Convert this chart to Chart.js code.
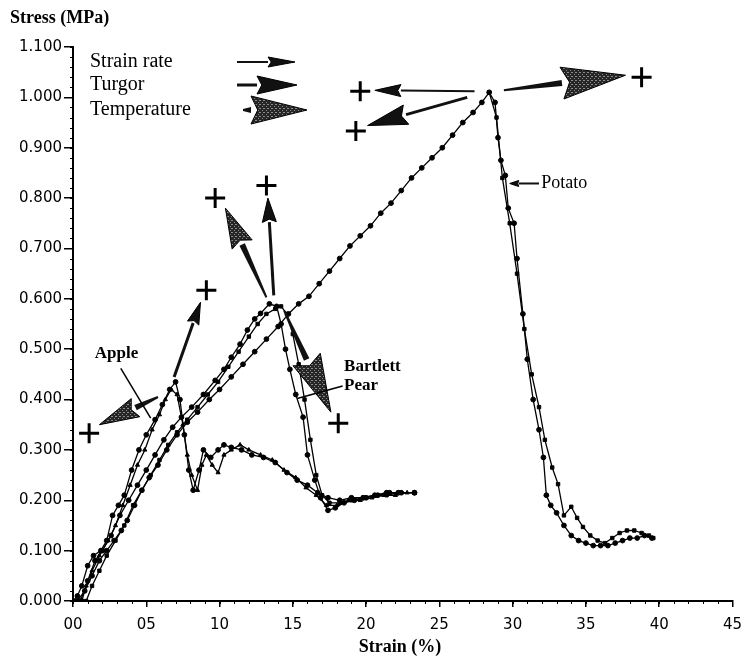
<!DOCTYPE html>
<html>
<head>
<meta charset="utf-8">
<script src="https://cdn.jsdelivr.net/npm/chart.js@4.4.1/dist/chart.umd.min.js"></script>
<style>
  html, body { margin:0; padding:0; background:#fff; }
  canvas { display:block; }
</style>
</head>
<body>
<canvas id="chart" width="751" height="665"></canvas>
<script>
// values: [strain %, stress MPa]
const appleA = [[0.0,0.0],[0.3,0.01],[0.6,0.03],[1.0,0.07],[1.4,0.09],[1.9,0.10],[2.3,0.12],[2.7,0.17],[3.1,0.19],[3.5,0.21],[4.0,0.26],[4.5,0.30],[5.0,0.33],[5.6,0.36],[6.1,0.39],[6.6,0.42],[7.0,0.435],[7.3,0.40],[7.6,0.33],[7.9,0.26],[8.2,0.22],[8.6,0.26],[8.9,0.30],[9.4,0.285],[9.9,0.30],[10.3,0.31],[10.8,0.305],[11.5,0.30],[12.2,0.29],[13.0,0.285],[13.8,0.275],[14.6,0.255],[15.3,0.24],[16.0,0.23],[16.7,0.215],[17.4,0.205],[18.2,0.20],[19.0,0.205],[19.8,0.205],[20.6,0.21],[21.4,0.215],[22.2,0.215],[23.3,0.215]];
const appleB = [[0.5,0.0],[0.9,0.03],[1.3,0.06],[1.8,0.09],[2.4,0.12],[2.9,0.15],[3.4,0.19],[3.9,0.23],[4.4,0.27],[4.9,0.30],[5.4,0.34],[5.9,0.37],[6.3,0.40],[6.7,0.42],[7.1,0.41],[7.5,0.35],[7.8,0.29],[8.1,0.25],[8.5,0.22],[8.8,0.27],[9.1,0.29],[9.5,0.27],[9.9,0.255],[10.3,0.29],[10.8,0.30],[11.4,0.31],[12.0,0.30],[12.8,0.29],[13.6,0.28],[14.4,0.26],[15.2,0.245],[15.9,0.225],[16.6,0.21],[17.3,0.19],[18.0,0.19],[18.8,0.20],[19.6,0.20],[20.4,0.205],[21.2,0.21],[22.0,0.21],[22.8,0.215],[23.3,0.215]];
const pearA = [[0.6,0.0],[1.0,0.04],[1.5,0.08],[2.0,0.10],[2.6,0.13],[3.2,0.17],[3.8,0.20],[4.4,0.23],[5.0,0.26],[5.6,0.29],[6.2,0.32],[6.8,0.345],[7.4,0.365],[8.1,0.385],[8.9,0.41],[9.7,0.438],[10.3,0.46],[10.8,0.484],[11.4,0.51],[11.9,0.538],[12.4,0.56],[12.8,0.571],[13.4,0.59],[13.9,0.585],[14.2,0.55],[14.5,0.50],[14.8,0.46],[15.2,0.41],[15.7,0.365],[16.0,0.29],[16.5,0.24],[16.9,0.205],[17.4,0.18],[17.9,0.185],[18.5,0.195],[19.2,0.20],[20.0,0.205],[20.8,0.21],[21.6,0.215],[22.4,0.215],[23.3,0.215]];
const pearB = [[0.9,0.0],[1.3,0.03],[1.8,0.06],[2.3,0.09],[2.9,0.12],[3.5,0.15],[4.1,0.19],[4.7,0.22],[5.3,0.25],[5.9,0.28],[6.5,0.31],[7.1,0.335],[7.8,0.36],[8.5,0.385],[9.2,0.41],[9.9,0.435],[10.6,0.465],[11.3,0.495],[12.0,0.525],[12.6,0.55],[13.2,0.57],[13.8,0.58],[14.2,0.585],[14.6,0.57],[15.0,0.53],[15.4,0.47],[15.8,0.40],[16.2,0.32],[16.6,0.25],[17.0,0.21],[17.5,0.195],[18.2,0.195],[19.0,0.20],[19.8,0.205],[20.6,0.21],[21.4,0.21],[22.2,0.215],[23.3,0.215]];
const potatoA = [[0.3,0.0],[0.8,0.02],[1.3,0.05],[1.8,0.08],[2.3,0.10],[2.8,0.12],[3.3,0.14],[3.7,0.16],[4.2,0.19],[4.7,0.22],[5.2,0.245],[5.8,0.27],[6.4,0.30],[7.1,0.33],[7.8,0.355],[8.5,0.375],[9.3,0.40],[10.0,0.42],[10.8,0.445],[11.6,0.47],[12.4,0.495],[13.2,0.52],[14.0,0.545],[14.7,0.57],[15.4,0.59],[16.1,0.605],[16.8,0.63],[17.5,0.655],[18.2,0.68],[18.9,0.705],[19.6,0.725],[20.3,0.745],[21.0,0.77],[21.7,0.79],[22.4,0.815],[23.1,0.84],[23.8,0.86],[24.5,0.88],[25.2,0.90],[25.9,0.925],[26.6,0.95],[27.3,0.97],[27.9,0.99],[28.4,1.01],[28.8,0.99],[29.0,0.92],[29.2,0.875],[29.5,0.845],[29.7,0.78],[30.1,0.75],[30.3,0.68],[30.7,0.57],[31.0,0.48],[31.4,0.40],[31.8,0.34],[32.1,0.285],[32.3,0.21],[32.6,0.19],[33.0,0.175],[33.5,0.15],[34.0,0.13],[34.5,0.12],[35.0,0.115],[35.5,0.11],[36.0,0.11],[36.5,0.11],[37.0,0.115],[37.5,0.12],[38.0,0.125],[38.5,0.125],[39.0,0.13],[39.5,0.125]];
const potatoB = [[28.4,1.01],[28.9,0.96],[29.3,0.84],[29.8,0.75],[30.3,0.65],[30.8,0.54],[31.3,0.45],[31.8,0.385],[32.2,0.32],[32.7,0.265],[33.1,0.232],[33.5,0.17],[34.0,0.187],[34.4,0.165],[34.8,0.147],[35.3,0.13],[35.8,0.12],[36.3,0.115],[36.8,0.125],[37.3,0.135],[37.8,0.14],[38.3,0.14],[38.8,0.135],[39.3,0.13],[39.6,0.125]];
// "+" marks at the ends of the arrows
const plusMarks = [[1.1,0.333],[9.1,0.617],[9.7,0.80],[13.2,0.825],[18.1,0.353],[19.6,1.012],[19.3,0.933],[38.8,1.04]];
const xTickLabels = ["00","05","10","15","20","25","30","35","40","45"];

// annotation arrows, in data units (from -> to)
const arrows = [
  { from:[5.8,0.405], to:[1.8,0.35], kind:"temp", head:40, half:10 },
  { from:[6.9,0.445], to:[8.7,0.593], kind:"turgor", head:22, half:6 },
  { from:[13.2,0.603], to:[10.4,0.78], kind:"temp", head:40, half:11 },
  { from:[13.7,0.607], to:[13.3,0.80], kind:"turgor", head:24, half:7 },
  { from:[14.4,0.577], to:[17.6,0.375], kind:"temp", head:58, half:15 },
  { from:[27.4,1.012], to:[20.6,1.014], kind:"rate", head:26, half:6 },
  { from:[26.9,1.0], to:[20.1,0.944], kind:"turgor", head:40, half:10 },
  { from:[29.4,1.014], to:[37.7,1.044], kind:"temp", head:64, half:16 }
];
const pointers = [
  { from:[3.26,0.462], to:[5.3,0.363], tip:false },
  { from:[18.4,0.427], to:[15.3,0.402], tip:false },
  { from:[31.8,0.829], to:[29.8,0.829], tip:true }
];
const curveLabels = [
  { text:"Apple", at:[1.49,0.492], font:"bold 17px 'Liberation Serif'" },
  { text:"Bartlett", at:[18.5,0.465], font:"bold 17px 'Liberation Serif'" },
  { text:"Pear", at:[18.5,0.427], font:"bold 17px 'Liberation Serif'" },
  { text:"Potato", at:[31.95,0.829], font:"18px 'Liberation Serif'" }
];

const toXY = arr => arr.map(([x, y]) => ({ x, y }));
const curve = (data, style) => ({
  data: toXY(data), showLine: true, borderColor: "#000", borderWidth: 1.3,
  pointStyle: style, pointRadius: 2.4, pointBackgroundColor: "#000",
  pointBorderColor: "#000", pointBorderWidth: 1
});

// stippled grey like the scanned "temperature" arrows
let stipple = null;
function getStipple(ctx) {
  if (stipple) return stipple;
  const c = document.createElement("canvas");
  c.width = 4; c.height = 4;
  const g = c.getContext("2d");
  g.fillStyle = "#262626"; g.fillRect(0, 0, 4, 4);
  g.fillStyle = "#8c8c8c"; g.fillRect(0, 0, 1, 1); g.fillRect(2, 2, 1, 1); g.fillRect(3, 0, 1, 1);
  stipple = ctx.createPattern(c, "repeat");
  return stipple;
}

function drawArrow(ctx, x1, y1, x2, y2, head, half, kind) {
  const dx = x2 - x1, dy = y2 - y1, len = Math.hypot(dx, dy);
  const ux = dx / len, uy = dy / len, nx = -uy, ny = ux;
  const bx = x2 - ux * head, by = y2 - uy * head;
  const sw = kind === "rate" ? 1 : kind === "turgor" ? 1.5 : 3;
  const sw0 = kind === "temp" ? 1 : sw;
  ctx.save();
  ctx.fillStyle = "#111";
  ctx.beginPath();
  ctx.moveTo(x1 + nx * sw0, y1 + ny * sw0);
  ctx.lineTo(bx + nx * sw, by + ny * sw);
  ctx.lineTo(bx - nx * sw, by - ny * sw);
  ctx.lineTo(x1 - nx * sw0, y1 - ny * sw0);
  ctx.closePath();
  ctx.fill();
  ctx.beginPath();
  ctx.moveTo(x2, y2);
  ctx.lineTo(bx + nx * half, by + ny * half);
  ctx.lineTo(bx + ux * head * 0.12, by + uy * head * 0.12);
  ctx.lineTo(bx - nx * half, by - ny * half);
  ctx.closePath();
  ctx.fillStyle = kind === "temp" ? getStipple(ctx) : "#111";
  ctx.fill();
  ctx.strokeStyle = "#000";
  ctx.lineWidth = 1;
  ctx.stroke();
  ctx.restore();
}

const annotate = {
  id: "annotate",
  afterDatasetsDraw(chart) {
    const { ctx, scales: { x, y } } = chart;
    const px = p => [x.getPixelForValue(p[0]), y.getPixelForValue(p[1])];
    ctx.save();
    arrows.forEach(a => {
      const [x1, y1] = px(a.from), [x2, y2] = px(a.to);
      drawArrow(ctx, x1, y1, x2, y2, a.head, a.half, a.kind);
    });
    pointers.forEach(p => {
      const [x1, y1] = px(p.from), [x2, y2] = px(p.to);
      if (p.tip) drawArrow(ctx, x1, y1, x2, y2, 9, 3, "rate");
      else {
        ctx.strokeStyle = "#000"; ctx.lineWidth = 1.5;
        ctx.beginPath(); ctx.moveTo(x1, y1); ctx.lineTo(x2, y2); ctx.stroke();
      }
    });
    ctx.fillStyle = "#000";
    ctx.textBaseline = "middle";
    ctx.textAlign = "left";
    curveLabels.forEach(l => {
      const [lx, ly] = px(l.at);
      ctx.font = l.font;
      ctx.fillText(l.text, lx, ly);
    });

    // minor ticks along both axes
    ctx.strokeStyle = "#000"; ctx.lineWidth = 1;
    for (let v = 0; v <= 1.1001; v += 0.02) {
      const py = Math.round(y.getPixelForValue(v)) + 0.5;
      ctx.beginPath(); ctx.moveTo(x.left - 3, py); ctx.lineTo(x.left, py); ctx.stroke();
    }
    for (let v = 0; v <= 45; v += 1) {
      const pxx = Math.round(x.getPixelForValue(v)) + 0.5;
      ctx.beginPath(); ctx.moveTo(pxx, y.bottom); ctx.lineTo(pxx, y.bottom + 3); ctx.stroke();
    }

    // key in the top-left corner
    const keyX = 90;
    ctx.fillStyle = "#000";
    ctx.font = "20px 'Liberation Serif'";
    ctx.fillText("Strain rate", keyX, 62);
    ctx.fillText("Turgor", keyX, 85);
    ctx.fillText("Temperature", keyX, 110);
    drawArrow(ctx, 237, 62, 295, 62, 27, 5, "rate");
    drawArrow(ctx, 237, 85, 297, 85, 40, 9, "turgor");
    drawArrow(ctx, 243, 110, 307, 110, 56, 14, "temp");

    // axis titles
    ctx.fillStyle = "#000";
    ctx.font = "bold 18px 'Liberation Serif'";
    ctx.fillText("Stress (MPa)", 10, 18);
    ctx.textAlign = "center";
    ctx.fillText("Strain (%)", 400, 647);
    ctx.restore();
  }
};

new Chart(document.getElementById("chart"), {
  type: "scatter",
  data: {
    datasets: [
      curve(appleA, "circle"),
      curve(appleB, "triangle"),
      curve(pearA, "circle"),
      curve(pearB, "rect"),
      curve(potatoA, "circle"),
      curve(potatoB, "rect"),
      { data: toXY(plusMarks), showLine: false, pointStyle: "cross", pointRadius: 10,
        pointBorderWidth: 3, borderColor: "#000", backgroundColor: "#000" }
    ]
  },
  options: {
    responsive: false,
    animation: false,
    devicePixelRatio: 1,
    events: [],
    layout: { padding: { top: 47, right: 14, left: 0, bottom: 0 } },
    plugins: { legend: { display: false }, tooltip: { enabled: false } },
    scales: {
      x: {
        type: "linear", min: 0, max: 45,
        afterFit: s => { s.height = 64; },
        border: { display: true, color: "#000", width: 2 },
        grid: { drawOnChartArea: false, drawTicks: true, tickLength: 6, color: "#000", lineWidth: 1.5 },
        ticks: {
          stepSize: 5, padding: 9, color: "#000",
          font: { family: "'DejaVu Sans'", size: 15 },
          callback: (v, i) => xTickLabels[i]
        }
      },
      y: {
        min: 0, max: 1.1,
        afterFit: s => { s.width = 73; },
        border: { display: true, color: "#000", width: 2 },
        grid: { drawOnChartArea: false, drawTicks: true, tickLength: 9, color: "#000", lineWidth: 1.5 },
        ticks: {
          stepSize: 0.1, padding: 2, color: "#000",
          font: { family: "'DejaVu Sans'", size: 15 },
          callback: v => v.toFixed(3)
        }
      }
    }
  },
  plugins: [annotate]
});
</script>
</body>
</html>
